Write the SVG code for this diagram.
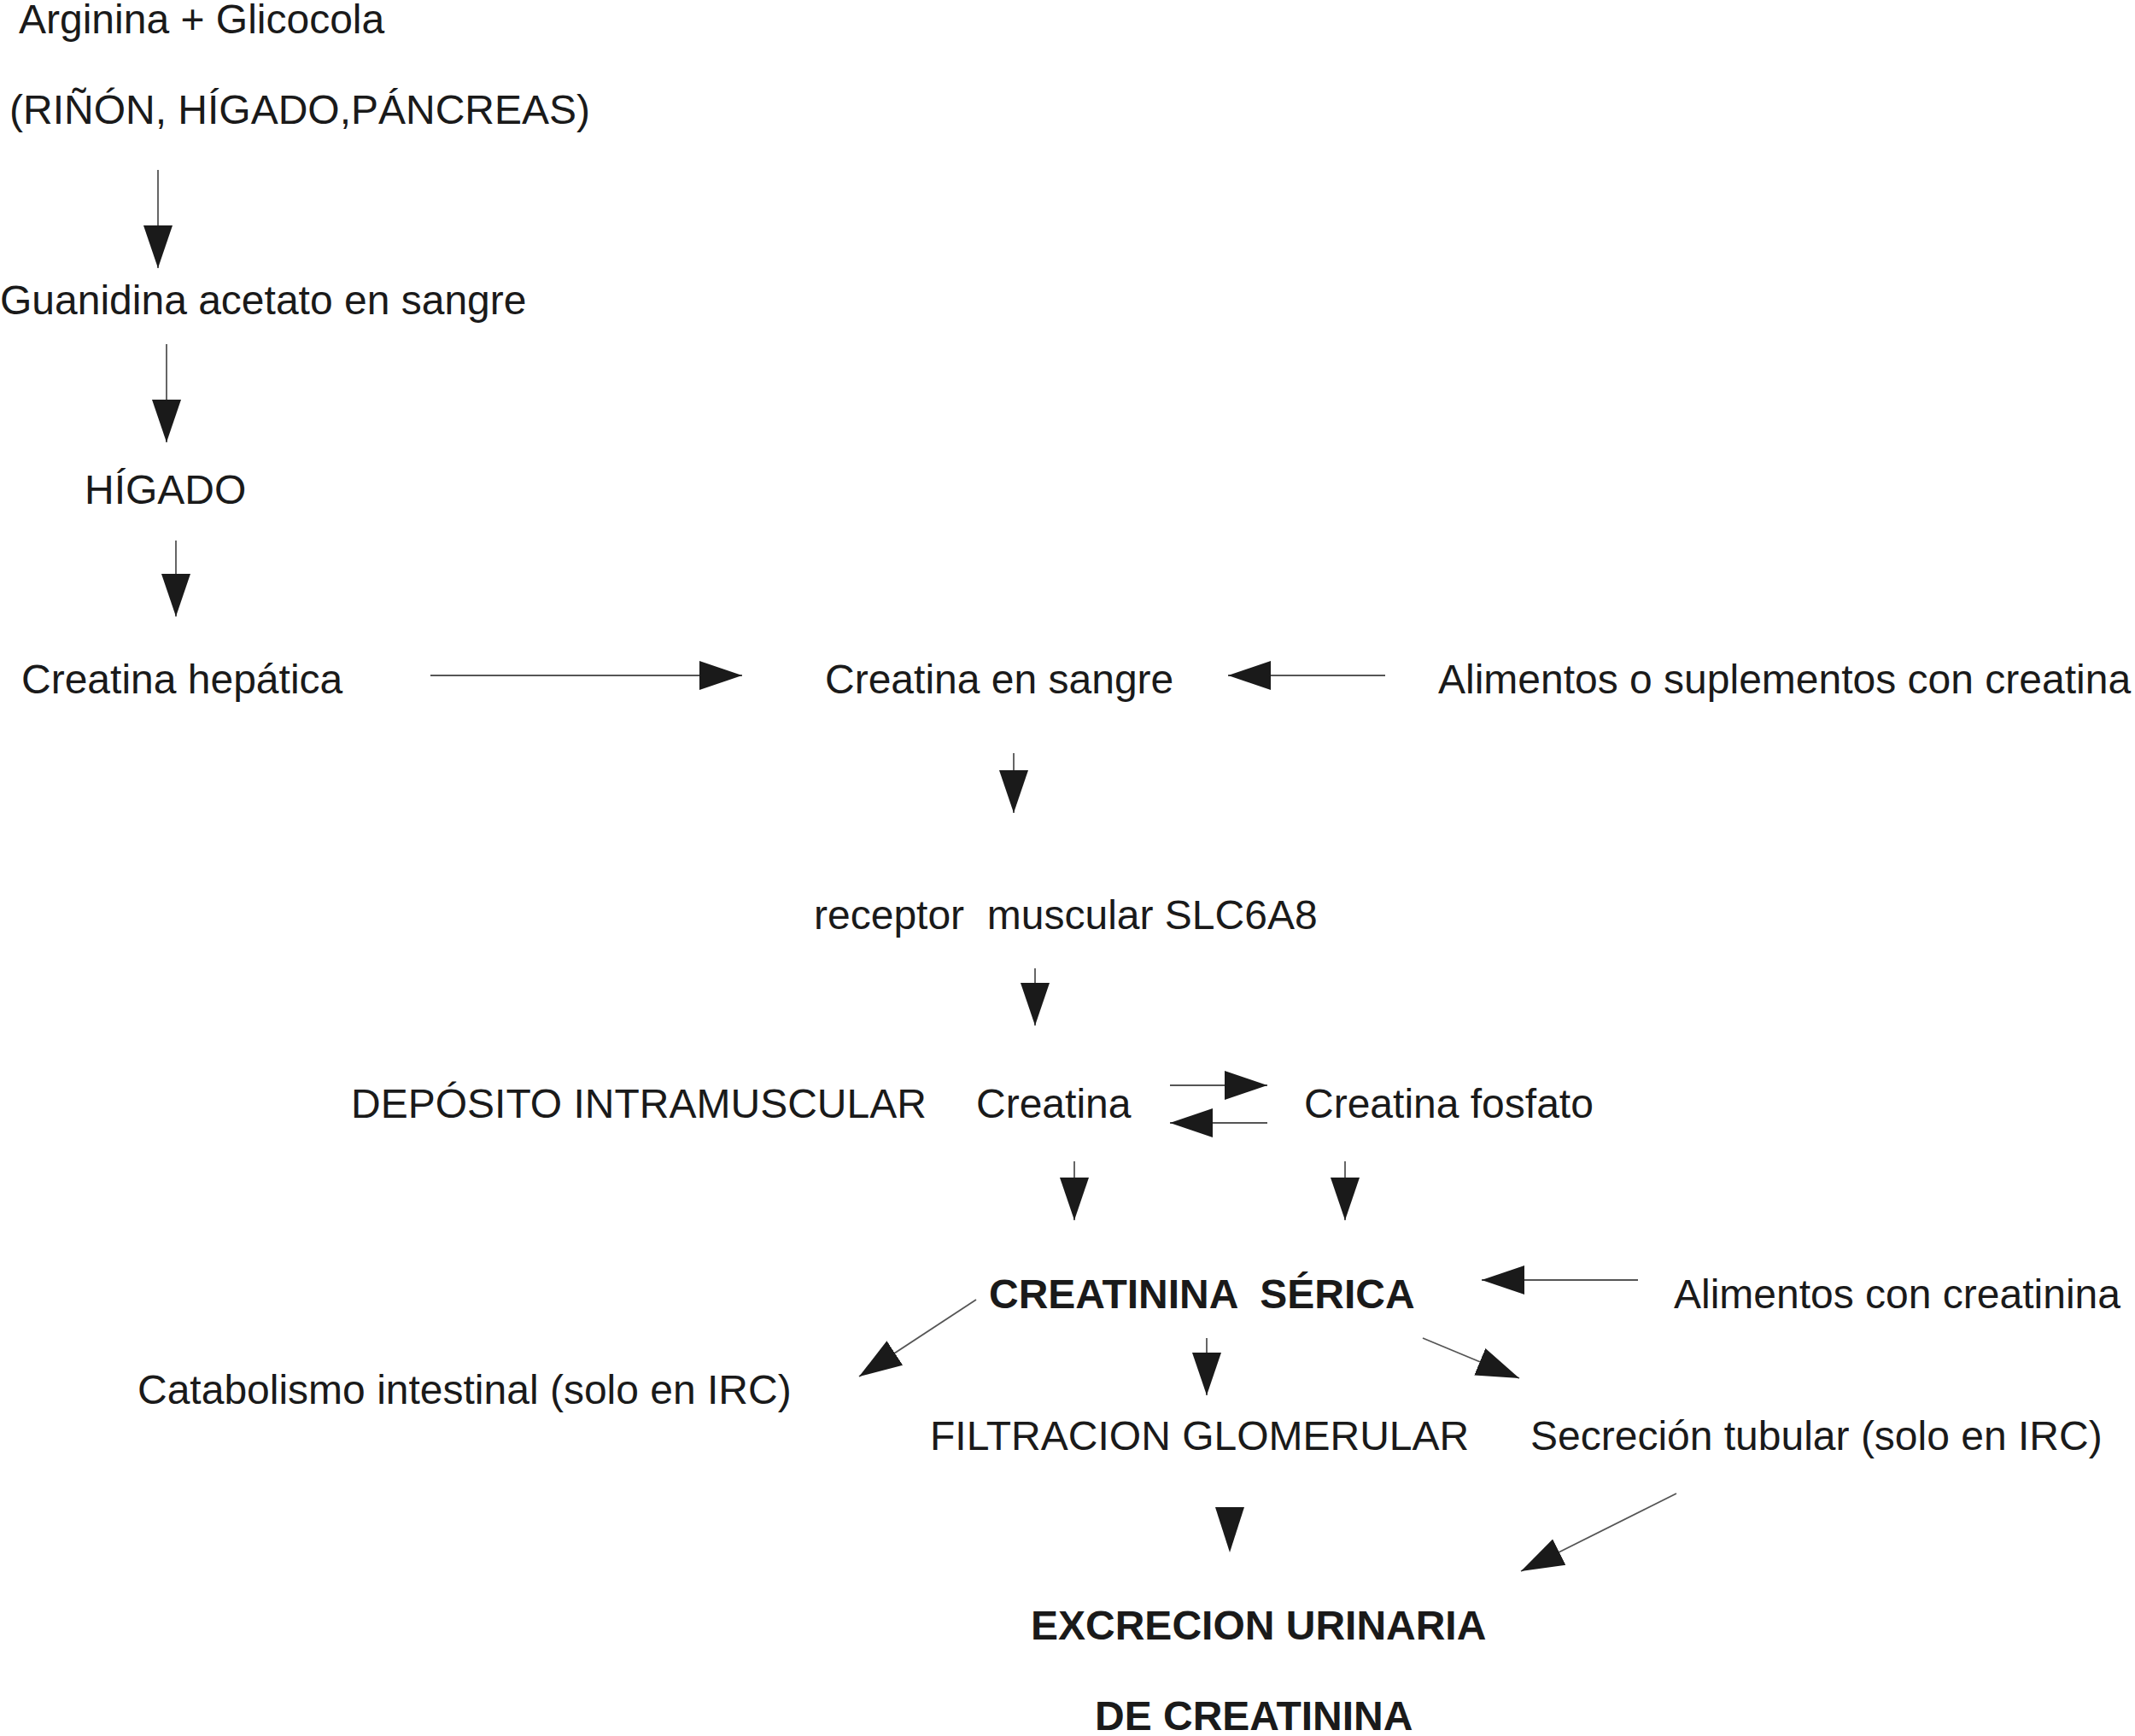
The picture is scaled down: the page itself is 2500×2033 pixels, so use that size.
<svg xmlns="http://www.w3.org/2000/svg" width="2500" height="2033" viewBox="0 0 2500 2033">
<defs>
<style>
text{font-family:"Liberation Sans",Arial,sans-serif;font-size:48px;fill:#1a1a1a;white-space:pre}
.b{font-weight:bold}
.ln{stroke:#555;stroke-width:1.8;fill:none}
.hd{fill:#1a1a1a}
</style>
<marker id="big" markerUnits="userSpaceOnUse" markerWidth="52" markerHeight="36" viewBox="0 -18 52 36" refX="50" refY="0" orient="auto"><path d="M0,-17 L50,0 L0,17 Z" class="hd"/></marker>
</defs>
<rect width="2500" height="2033" fill="#fff"/>
<g id="connectors">
<line class="ln" x1="185" y1="199" x2="185" y2="314" marker-end="url(#big)"/>
<line class="ln" x1="195" y1="403" x2="195" y2="518" marker-end="url(#big)"/>
<line class="ln" x1="206" y1="633" x2="206" y2="722" marker-end="url(#big)"/>
<line class="ln" x1="504" y1="791" x2="869" y2="791" marker-end="url(#big)"/>
<line class="ln" x1="1622" y1="791" x2="1438" y2="791" marker-end="url(#big)"/>
<line class="ln" x1="1187" y1="882" x2="1187" y2="952" marker-end="url(#big)"/>
<line class="ln" x1="1212" y1="1134" x2="1212" y2="1201" marker-end="url(#big)"/>
<line class="ln" x1="1370" y1="1271" x2="1484" y2="1271" marker-end="url(#big)"/>
<line class="ln" x1="1484" y1="1315" x2="1370" y2="1315" marker-end="url(#big)"/>
<line class="ln" x1="1258" y1="1360" x2="1258" y2="1429" marker-end="url(#big)"/>
<line class="ln" x1="1575" y1="1360" x2="1575" y2="1429" marker-end="url(#big)"/>
<line class="ln" x1="1918" y1="1499" x2="1735" y2="1499" marker-end="url(#big)"/>
<line class="ln" x1="1143" y1="1522" x2="1006" y2="1612" marker-end="url(#big)"/>
<line class="ln" x1="1413" y1="1567" x2="1413" y2="1634" marker-end="url(#big)"/>
<line class="ln" x1="1666" y1="1567" x2="1779" y2="1614" marker-end="url(#big)"/>
<polygon class="hd" points="1423,1765 1457,1765 1440,1818"/>
<line class="ln" x1="1963" y1="1749" x2="1781" y2="1840" marker-end="url(#big)"/>
</g>
<g id="n1"><text x="22" y="39">Arginina + Glicocola</text></g>
<g id="n2"><text x="11" y="145">(RIÑÓN, HÍGADO,PÁNCREAS)</text></g>
<g id="n3"><text x="0" y="368">Guanidina acetato en sangre</text></g>
<g id="n4"><text x="99" y="590">HÍGADO</text></g>
<g id="n5"><text x="25" y="812">Creatina hepática</text></g>
<g id="n6"><text x="966" y="812">Creatina en sangre</text></g>
<g id="n7"><text x="1684" y="812">Alimentos o suplementos con creatina</text></g>
<g id="n8"><text x="953" y="1088">receptor  muscular SLC6A8</text></g>
<g id="n9"><text x="411" y="1309">DEPÓSITO INTRAMUSCULAR</text></g>
<g id="n10"><text x="1143" y="1309">Creatina</text></g>
<g id="n11"><text x="1527" y="1309">Creatina fosfato</text></g>
<g id="n12"><text class="b" x="1158" y="1532">CREATININA  SÉRICA</text></g>
<g id="n13"><text x="1960" y="1532">Alimentos con creatinina</text></g>
<g id="n14"><text x="161" y="1644">Catabolismo intestinal (solo en IRC)</text></g>
<g id="n15"><text x="1089" y="1698">FILTRACION GLOMERULAR</text></g>
<g id="n16"><text x="1792" y="1698">Secreción tubular (solo en IRC)</text></g>
<g id="n17"><text class="b" x="1207" y="1920">EXCRECION URINARIA</text></g>
<g id="n18"><text class="b" x="1282" y="2026">DE CREATININA</text></g>
</svg>
